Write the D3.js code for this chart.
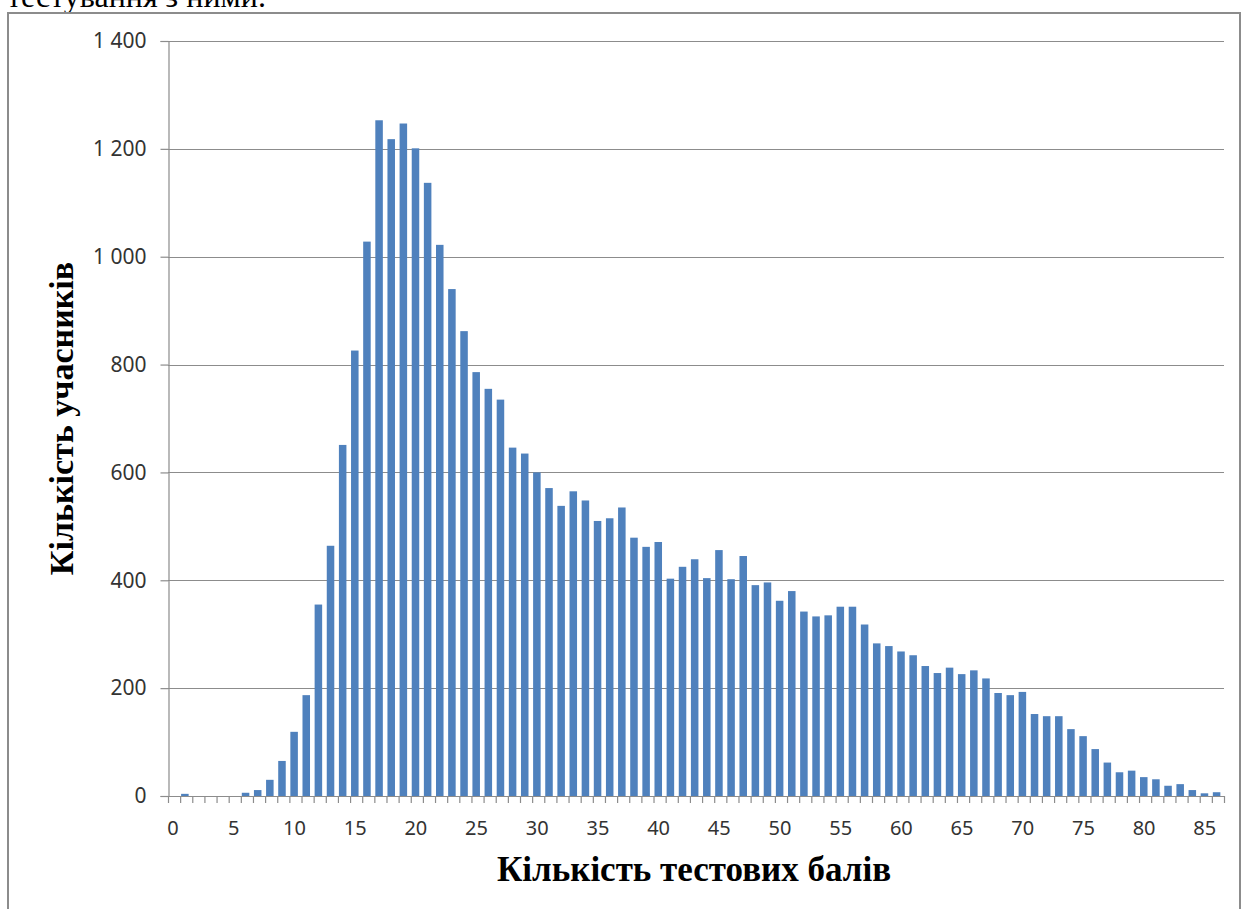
<!DOCTYPE html>
<html>
<head>
<meta charset="utf-8">
<script src="https://cdn.jsdelivr.net/npm/d3@7"></script>
<style>
  html, body { margin: 0; padding: 0; background: #fff; }
  svg { display: block; }
</style>
</head>
<body>
<svg id="chart" width="1243" height="909"></svg>
<script>
// ---- data ----
const scores = d3.range(0, 87);
const counts = [
  0, 4, 0, 0, 0, 0, 6, 11, 30, 65,
  119, 187, 355, 464, 651, 826, 1028, 1253, 1218, 1247,
  1201, 1137, 1022, 940, 862, 786, 755, 735, 646, 635,
  600, 571, 538, 565, 548, 510, 515, 535, 479, 462,
  471, 403, 425, 439, 404, 456, 402, 445, 391, 396,
  362, 380, 342, 333, 335, 351, 351, 318, 283, 278,
  268, 261, 241, 228, 238, 226, 233, 218, 191, 187,
  193, 152, 148, 148, 124, 111, 87, 62, 44, 47,
  35, 31, 19, 22, 11, 5, 7
];
const yTicks = [0, 200, 400, 600, 800, 1000, 1200, 1400];
const xTickLabels = [0, 5, 10, 15, 20, 25, 30, 35, 40, 45, 50, 55, 60, 65, 70, 75, 80, 85];
const xTitle = "Кількість тестових балів";
const yTitle = "Кількість учасників";
const topText = "тестування з ними.";

// ---- layout ----
const svg = d3.select("#chart");
const pLeft = 168, pRight = 1224, pTop = 41, pBottom = 796;
const gridColor = "#8c8c8c";
const barColor = "#4f81bd";

// page text above chart (cut off at the top, as in the source scan)
svg.append("text")
  .attr("x", 7).attr("y", 7)
  .attr("font-family", "'Liberation Serif', 'Times New Roman', serif")
  .attr("font-size", 32)
  .attr("fill", "#000")
  .text(topText);

// chart frame
svg.append("rect")
  .attr("x", 8).attr("y", 13)
  .attr("width", 1232).attr("height", 920)
  .attr("fill", "#fff")
  .attr("stroke", "#8c8c8c")
  .attr("stroke-width", 2);

const x = d3.scaleBand().domain(scores).range([pLeft, pRight]).paddingInner(0).paddingOuter(0);
const y = d3.scaleLinear().domain([0, 1400]).range([pBottom, pTop]);

const fmt = v => d3.format(",")(v).replace(/,/g, " ");

// gridlines
svg.append("g")
  .selectAll("line")
  .data(yTicks.filter(d => d > 0))
  .join("line")
  .attr("x1", pLeft).attr("x2", pRight)
  .attr("y1", d => Math.round(y(d)) + 0.5).attr("y2", d => Math.round(y(d)) + 0.5)
  .attr("stroke", gridColor).attr("stroke-width", 1.2);

// y axis
const yAxis = svg.append("g")
  .attr("transform", `translate(${pLeft + 0.5},0)`)
  .call(d3.axisLeft(y).tickValues(yTicks).tickSize(8).tickPadding(14).tickFormat(fmt));
yAxis.select(".domain").attr("stroke", gridColor).attr("stroke-width", 1.2);
yAxis.selectAll(".tick line").attr("stroke", gridColor).attr("stroke-width", 1.2);
yAxis.selectAll(".tick text")
  .attr("font-family", "'Noto Sans', sans-serif")
  .attr("font-size", 21)
  .attr("fill", "#333");

// bars
const bw = x.bandwidth();
svg.append("g")
  .selectAll("rect")
  .data(scores)
  .join("rect")
  .attr("x", d => x(d) + bw * 0.08)
  .attr("width", bw * 0.62)
  .attr("y", (d, i) => y(counts[i]))
  .attr("height", (d, i) => y(0) - y(counts[i]))
  .attr("fill", barColor);

// x axis line and ticks at category boundaries
const xg = svg.append("g");
xg.append("line")
  .attr("x1", pLeft).attr("x2", pRight)
  .attr("y1", pBottom + 0.5).attr("y2", pBottom + 0.5)
  .attr("stroke", gridColor).attr("stroke-width", 1.2);
xg.selectAll("line.tk")
  .data(scores.concat([scores.length]))
  .join("line")
  .attr("class", "tk")
  .attr("x1", d => (d < scores.length ? x(d) : pRight) + 0.5)
  .attr("x2", d => (d < scores.length ? x(d) : pRight) + 0.5)
  .attr("y1", pBottom).attr("y2", pBottom + 7)
  .attr("stroke", gridColor).attr("stroke-width", 1.2);
xg.selectAll("text")
  .data(xTickLabels)
  .join("text")
  .attr("x", d => x(d) + bw / 2 - 1)
  .attr("y", 835)
  .attr("text-anchor", "middle")
  .attr("font-family", "'Noto Sans', sans-serif")
  .attr("font-size", 20)
  .attr("fill", "#333")
  .text(d => d);

// axis titles
svg.append("text")
  .attr("x", (pLeft + pRight) / 2 - 2)
  .attr("y", 881)
  .attr("text-anchor", "middle")
  .attr("font-family", "'Liberation Serif', 'Times New Roman', serif")
  .attr("font-weight", "bold")
  .attr("font-size", 35)
  .attr("fill", "#000")
  .text(xTitle);

svg.append("text")
  .attr("transform", `translate(73,${(pTop + pBottom) / 2}) rotate(-90)`)
  .attr("text-anchor", "middle")
  .attr("font-family", "'Liberation Serif', 'Times New Roman', serif")
  .attr("font-weight", "bold")
  .attr("font-size", 34)
  .attr("fill", "#000")
  .text(yTitle);
</script>
</body>
</html>
